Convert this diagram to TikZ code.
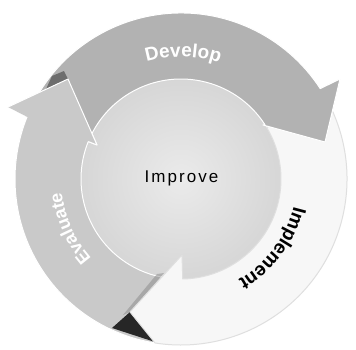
\documentclass[tikz,border=0pt]{standalone}
\usepackage{fontspec}
\setmainfont{Liberation Sans}
\newfontfamily\lblfont{Liberation Sans}
\newfontfamily\impfont[LetterSpace=12]{Liberation Sans}
\usetikzlibrary{decorations.text}
\definecolor{devgray}{gray}{0.70}
\definecolor{evalgray}{gray}{0.79}
\definecolor{implwhite}{gray}{0.97}
\definecolor{innerin}{gray}{0.92}
\definecolor{innerout}{gray}{0.84}
\tikzset{
  band/.style={draw=white, line width=1pt, line join=round},
  lbl/.style={decorate, decoration={text along path, text align=center, #1}},
}
\begin{document}
\begin{tikzpicture}[x=1pt,y=1pt]
\useasboundingbox (-181,-170) rectangle (175,179);
\fill[white] (-181,-170) rectangle (175,179);

% inner circle
\shade[inner color=innerin, outer color=innerout] (0,0) circle (100);
\coordinate (c) at (0,0);

% Evaluate arrow
\path[band, fill=evalgray]
  (-92:166) arc[start angle=-92, end angle=-202, radius=166]
  -- (-173,72) -- (-113,100) -- (-84,34) -- (-202:100)
  arc[start angle=-202, end angle=-92, radius=100] -- cycle;

% shadow cast by Implement head on Evaluate
\fill[black!50, opacity=0.45] (-51,-133) -- (-17,-94) -- (-24,-95) -- (-58,-136) -- cycle;
\fill[black!85] (-51,-133) -- (-26,-163) -- (-69,-149) -- cycle;

% Implement arrow
\path[band, draw=gray!25, fill=implwhite]
  (31:166) arc[start angle=31, end angle=-99, radius=166]
  -- (-51,-133) -- (1,-76) -- (-89:100)
  arc[start angle=-89, end angle=31, radius=100] -- cycle;

% Develop arrow
\path[band, fill=devgray]
  (155:166) arc[start angle=155, end angle=33, radius=166]
  -- (159,100) -- (144,37) -- (82,54) -- (33:100)
  arc[start angle=33, end angle=155, radius=100] -- cycle;

% shadow cast by Evaluate head on Develop
\fill[black!75, opacity=0.6] (-113,100) -- (-135,89.8) -- (-129,103) -- (-117,108) -- cycle;

% Evaluate head again (over the Develop tail)
\path[fill=evalgray] (-202:166) -- (-173,72) -- (-113,100) -- (-84,34) -- (-202:100) -- cycle;
\draw[white, line width=1pt, line join=round] (-173,72) -- (-113,100) -- (-84,34) -- (-202:100);

% labels
\path[lbl={text={|\lblfont\bfseries\fontsize{19}{19}\selectfont\color{white}|Develop}}]
  (124:122) arc[start angle=124, end angle=54, radius=122];
\path[lbl={text={|\lblfont\bfseries\fontsize{19}{19}\selectfont\color{black}|Implement}}]
  (3:116) arc[start angle=3, end angle=-77, radius=116];
\path[lbl={text={|\lblfont\bfseries\fontsize{18}{18}\selectfont\color{white}|Evaluate}}]
  (234:120) arc[start angle=234, end angle=174, radius=120];

\node[font=\impfont\fontsize{17}{17}\selectfont, anchor=base, inner sep=0pt] (improve) at (0.5,-3) {Improve};
\end{tikzpicture}
\end{document}
